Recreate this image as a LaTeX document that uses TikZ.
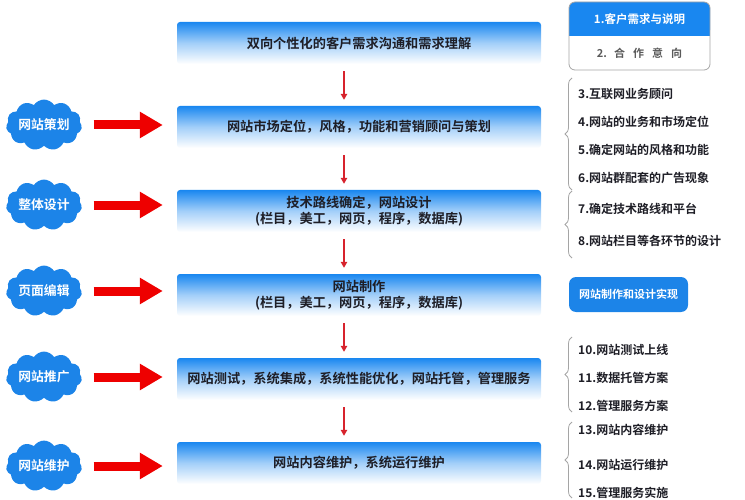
\documentclass[tikz,border=0pt]{standalone}
\usepackage{fontspec}
\setmainfont{Noto Sans CJK SC}[BoldFont={Noto Sans CJK SC Bold}]
\usetikzlibrary{shapes.symbols,arrows.meta,decorations.pathreplacing,calc}
\definecolor{boxblue}{RGB}{25,135,240}
\definecolor{cloudblue}{RGB}{28,132,232}
\definecolor{arrred}{RGB}{238,0,0}
\definecolor{thinred}{RGB}{215,35,45}
\definecolor{txt}{RGB}{30,30,38}
\definecolor{bracegrey}{RGB}{165,165,165}
\definecolor{headgrey}{RGB}{90,90,90}
\begin{document}
\begin{tikzpicture}[x=1pt,y=-1pt,
  stage/.style={minimum width=364pt, minimum height=42pt, inner sep=0pt,
    top color=boxblue, bottom color=white, middle color=boxblue!40!white,
    rounded corners=3pt, font=\bfseries\fontsize{13.2}{16}\selectfont,
    text=txt, align=center},
  cloudnode/.style={cloud, cloud puffs=11, cloud puff arc=115, aspect=1.75,
    fill=cloudblue, draw=none, inner sep=0pt, minimum width=74pt,
    minimum height=44pt, text=white, font=\bfseries\fontsize{12.8}{14}\selectfont},
  bigarrow/.style={arrred, line width=9pt, -{Triangle[length=23pt,width=25pt]}},
  thinarrow/.style={thinred, line width=1.3pt, -{Triangle[length=6pt,width=6.5pt]}},
  item/.style={anchor=west, inner sep=0pt, text=txt,
    font=\bfseries\fontsize{12}{14}\selectfont},
  bracestyle/.style={bracegrey, line width=0.8pt, decorate,
    decoration={brace, amplitude=7pt}},
  tag/.style={fill=cloudblue, rounded corners=7pt, minimum width=119pt,
    minimum height=35pt, inner sep=0pt, text=white,
    font=\bfseries\fontsize{11}{13}\selectfont}
]
\useasboundingbox (0,0) rectangle (745,500);

% main stages
\node[stage] (b1) at (359,43) {双向个性化的客户需求沟通和需求理解};
\node[stage] (b2) at (359,127) {网站市场定位，风格，功能和营销顾问与策划};
\node[stage] (b3) at (359,211) {技术路线确定，网站设计\\(栏目，美工，网页，程序，数据库)};
\node[stage] (b4) at (359,295) {网站制作\\(栏目，美工，网页，程序，数据库)};
\node[stage] (b5) at (359,379) {网站测试，系统集成，系统性能优化，网站托管，管理服务};
\node[stage] (b6) at (359,463) {网站内容维护，系统运行维护};

\foreach \a/\b in {b1/b2,b2/b3,b3/b4,b4/b5,b5/b6}
  \draw[thinarrow] ([shift={(-15,7)}]\a.south) -- ([shift={(-15,-6)}]\b.north);

% clouds
\node[cloudnode] (c1) at (44,125) {网站策划};
\node[cloudnode] (c2) at (44,205) {整体设计};
\node[cloudnode] (c3) at (44,291) {页面编辑};
\node[cloudnode] (c4) at (44,377) {网站推广};
\node[cloudnode] (c5) at (44,466) {网站维护};

\foreach \c/\b in {c1/b2,c2/b3,c3/b4,c4/b5,c5/b6}
  \draw[bigarrow] ($(\c.east)+(12,0)$) -- ($(\c.east -| \b.west)+(-14,0)$);

% right panel header
\fill[boxblue, rounded corners=6pt] (569,2) rectangle (710,36);
\fill[boxblue] (569,20) rectangle (710,36);
\draw[bracegrey, line width=0.8pt, rounded corners=6pt] (569,2) rectangle (710,70);
\node[text=white, font=\bfseries\fontsize{11.5}{13}\selectfont] (h1) at (639.5,19) {1.客户需求与说明};
\node[text=headgrey, font=\bfseries\fontsize{11}{13}\selectfont] (h2) at (639.5,53)
  {2.\hspace{7pt}合\hspace{8pt}作\hspace{8pt}意\hspace{8pt}向};

% items
\node[item] (i3) at (578,94) {3.互联网业务顾问};
\node[item] (i4) at (578,122) {4.网站的业务和市场定位};
\node[item] (i5) at (578,150) {5.确定网站的风格和功能};
\node[item] (i6) at (578,178) {6.网站群配套的广告现象};
\node[item] (i7) at (578,209) {7.确定技术路线和平台};
\node[item] (i8) at (578,241) {8.网站栏目等各环节的设计};
\node[tag] (t9) at (628.5,294.5) {网站制作和设计实现};
\node[item] (i10) at (578,350) {10.网站测试上线};
\node[item] (i11) at (578,378) {11.数据托管方案};
\node[item] (i12) at (578,406) {12.管理服务方案};
\node[item] (i13) at (578,430) {13.网站内容维护};
\node[item] (i14) at (578,465) {14.网站运行维护};
\node[item] (i15) at (578,493) {15.管理服务实施};

% braces
\draw[bracestyle] (572,190) -- (572,78);
\draw[bracestyle] (572,258) -- (572,191);
\draw[bracestyle] (572,412) -- (572,337);
\draw[bracestyle] (572,498) -- (572,422);
\end{tikzpicture}
\end{document}
